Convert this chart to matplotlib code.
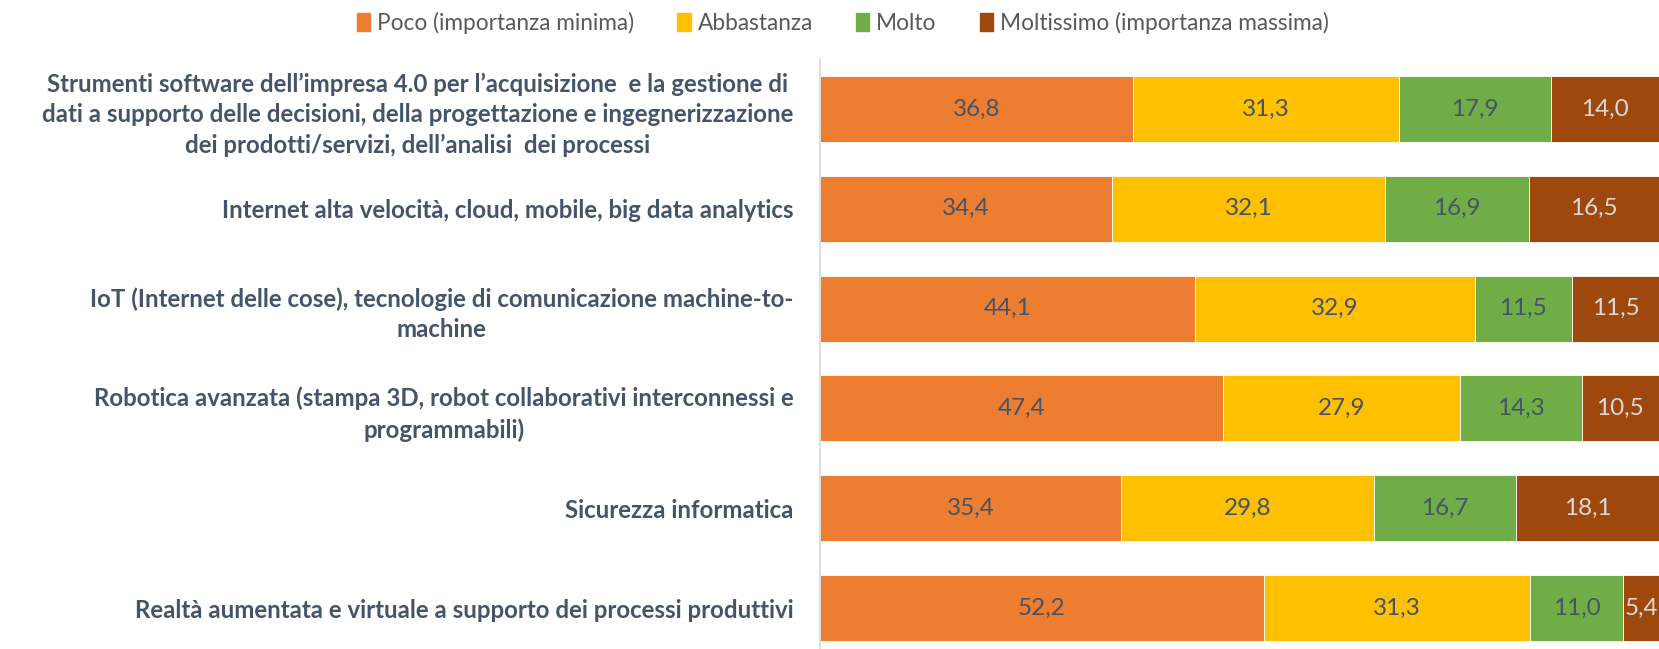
import matplotlib.pyplot as plt
from matplotlib.patches import Patch

categorie = [
    "Strumenti software dell’impresa 4.0 per l’acquisizione  e la gestione di\n"
    "dati a supporto delle decisioni, della progettazione e ingegnerizzazione\n"
    "dei prodotti/servizi, dell’analisi  dei processi",
    "Internet alta velocità, cloud, mobile, big data analytics",
    "IoT (Internet delle cose), tecnologie di comunicazione machine-to-\nmachine",
    "Robotica avanzata (stampa 3D, robot collaborativi interconnessi e\nprogrammabili)",
    "Sicurezza informatica",
    "Realtà aumentata e virtuale a supporto dei processi produttivi",
]
poco = [36.8, 34.4, 44.1, 47.4, 35.4, 52.2]
abbastanza = [31.3, 32.1, 32.9, 27.9, 29.8, 31.3]
molto = [17.9, 16.9, 11.5, 14.3, 16.7, 11.0]
moltissimo = [14.0, 16.5, 11.5, 10.5, 18.1, 5.4]
serie = ['Poco (importanza minima)', 'Abbastanza', 'Molto', 'Moltissimo (importanza massima)']
colori = ['#ED7D31', '#FFC000', '#70AD47', '#9E480E']
col_testo = ['#44546A', '#44546A', '#44546A', '#D9D9D9']

plt.rcParams['font.family'] = ['Lato', 'DejaVu Sans']

fig = plt.figure(figsize=(16.59, 6.49), dpi=100)
ax = fig.add_axes([820/1659, 0, 1 - 820/1659, 1 - 59/649])

y = list(range(len(categorie)))
left = [0] * len(categorie)
for vals, nome, col, tc in zip([poco, abbastanza, molto, moltissimo], serie, colori, col_testo):
    bars = ax.barh(y, vals, left=left, height=0.66, color=col,
                   edgecolor='white', linewidth=0.6, label=nome)
    ax.bar_label(bars, labels=[f'{v:.1f}'.replace('.', ',') for v in vals],
                 label_type='center', color=tc, fontsize=17.5)
    left = [a + b for a, b in zip(left, vals)]

ax.set_xlim(0, 98.7)
ax.set_ylim(5.41, -0.5)
ax.set_xticks([])
ax.set_yticks(y)
ax.set_yticklabels(categorie, fontsize=17.3, fontweight='bold', color='#44546A',
                   multialignment='center', linespacing=1.4)
ax.tick_params(axis='y', length=0, pad=19)
for s in ['top', 'right', 'bottom']:
    ax.spines[s].set_visible(False)
ax.spines['left'].set_color('#D9D9D9')
ax.spines['left'].set_linewidth(1.2)

handles = [Patch(color=c) for c in colori]
fig.legend(handles, serie, loc='center', bbox_to_anchor=(0.508, 0.965), ncol=4,
           frameon=False, fontsize=16.3, labelcolor='#595959',
           handlelength=0.6, handleheight=0.8, handletextpad=0.3, columnspacing=1.9)

plt.savefig('out.png', dpi=100)
